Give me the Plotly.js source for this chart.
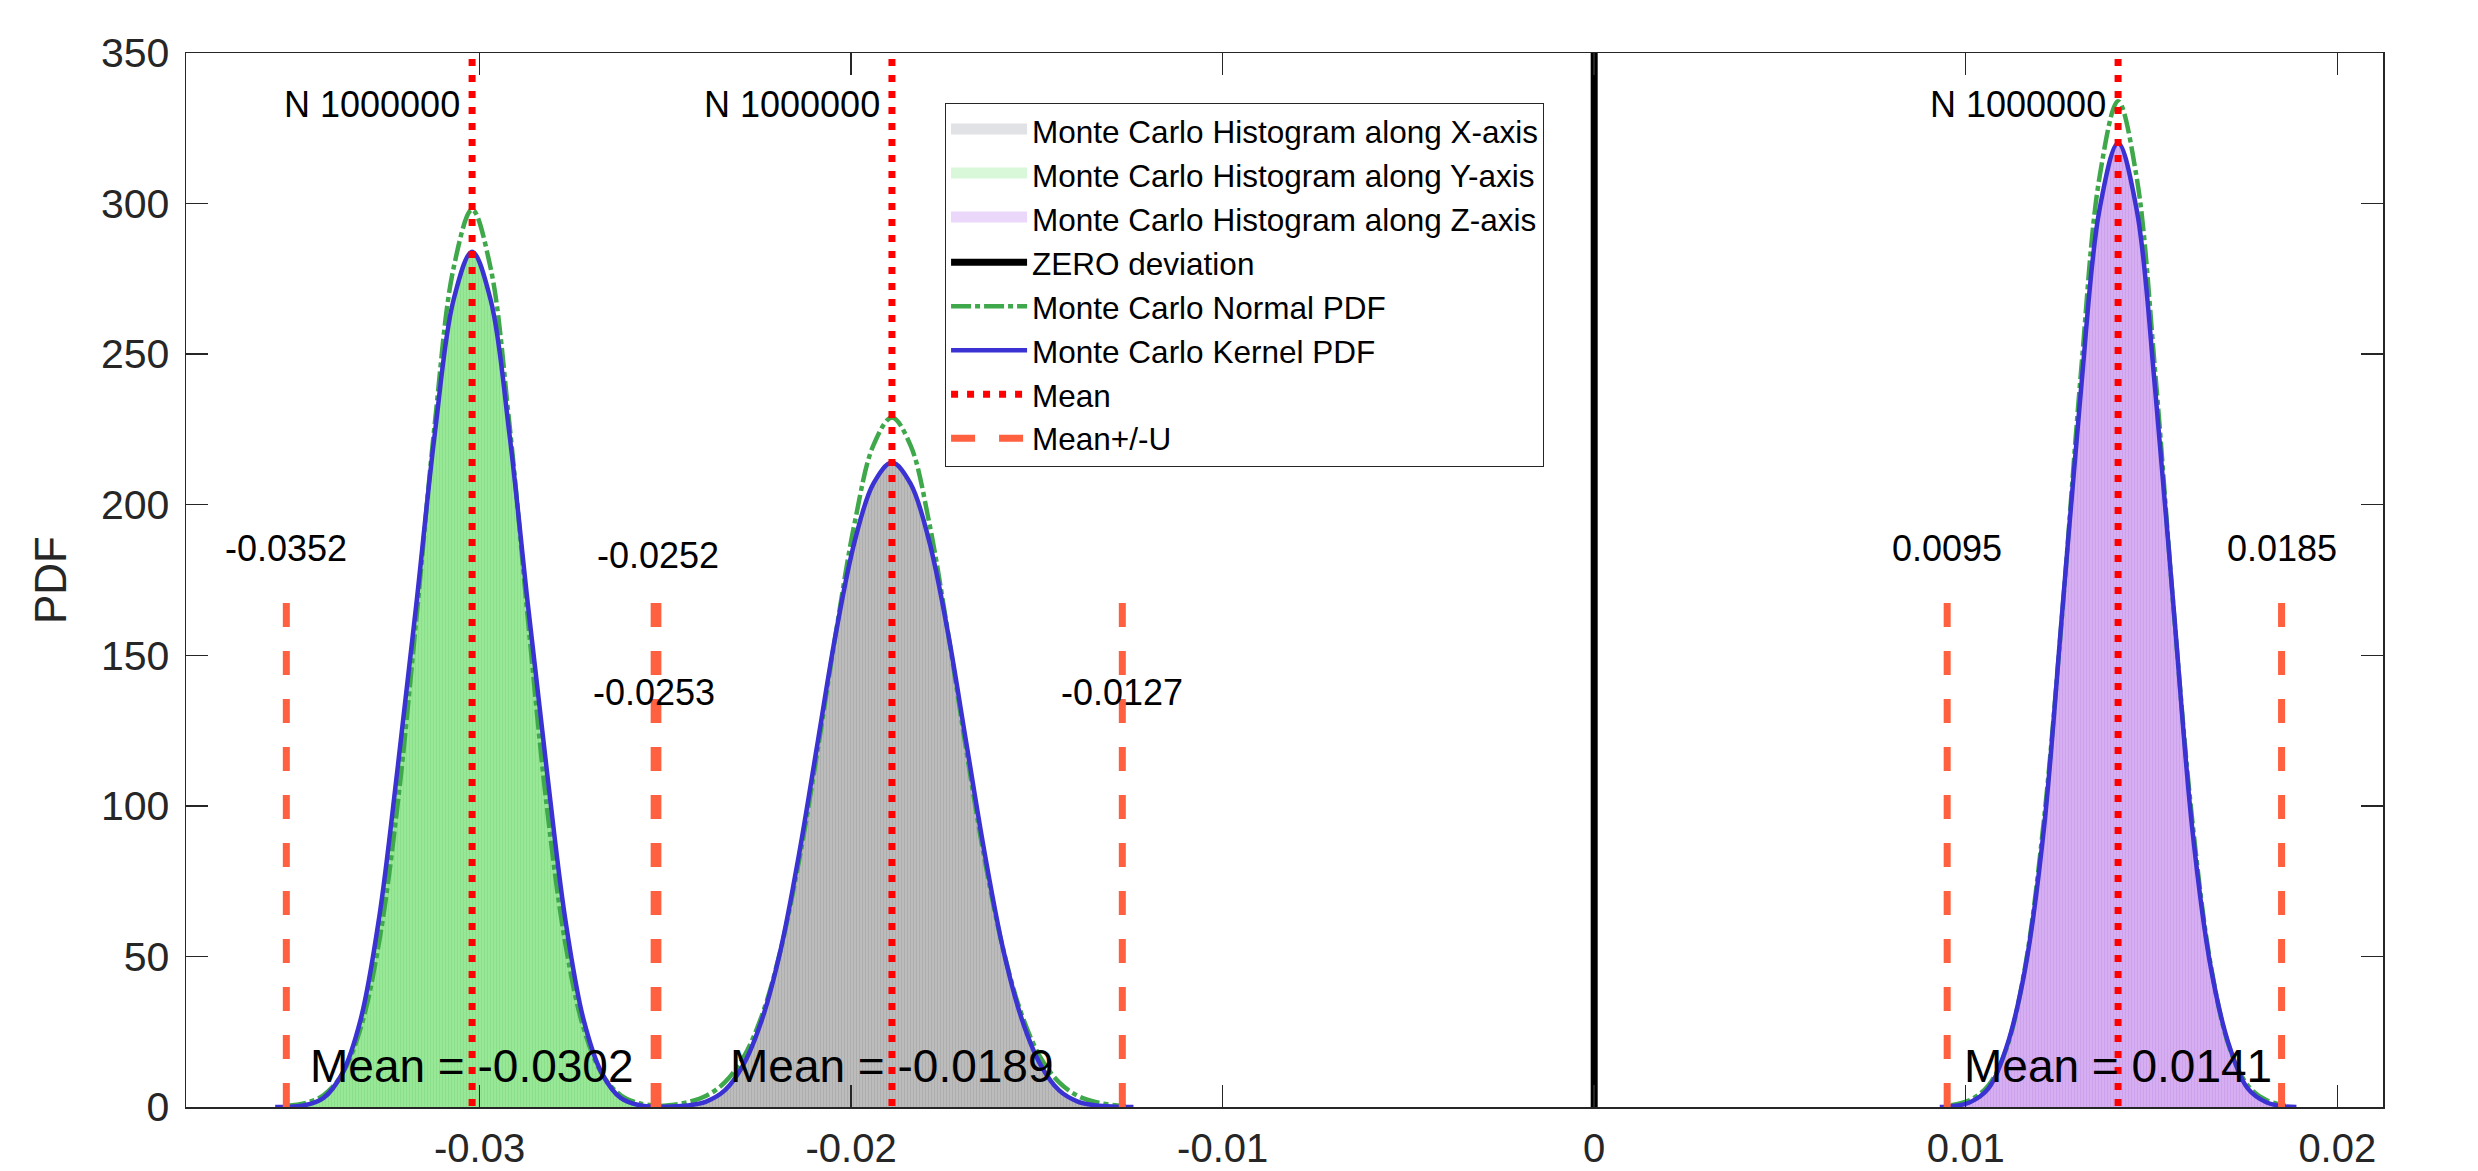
<!DOCTYPE html>
<html><head><meta charset="utf-8">
<script src="https://cdn.plot.ly/plotly-3.0.1.min.js"></script>
<style>html,body{margin:0;padding:0;background:#fff;} #chart{width:2478px;height:1171px;}</style>
</head><body><div id="chart"></div>
<script>
// ---------------- data ----------------
const axisNames = ['X-axis', 'Y-axis', 'Z-axis'];
const sampleCount = 1000000;
const meanValues = [-0.0189, -0.0302, 0.0141];
const lowerBounds = [-0.0253, -0.0352, 0.0095];
const upperBounds = [-0.0127, -0.0252, 0.0185];
const zeroDeviation = 0;

// X-axis (gray) kernel + normal PDF
const kernelX_x = [-0.0254, -0.0249, -0.0244, -0.0239, -0.0234, -0.0229, -0.0224, -0.0219, -0.0214, -0.0209, -0.0204, -0.0199, -0.0194, -0.0189, -0.0184, -0.0179, -0.0174, -0.0169, -0.0164, -0.0159, -0.0154, -0.0149, -0.0144, -0.0139, -0.0134, -0.0129, -0.0124];
const kernelX_y = [0, 0.1, 0.5, 1.8, 5.5, 14, 29, 52, 84, 121, 158, 188, 207, 214, 207, 188, 158, 121, 84, 52, 29, 14, 5.5, 1.8, 0.5, 0.1, 0];
const normalX_x = [-0.0252, -0.0249, -0.0244, -0.0239, -0.0234, -0.0229, -0.0224, -0.0219, -0.0214, -0.0209, -0.0204, -0.0199, -0.0194, -0.0189, -0.0184, -0.0179, -0.0174, -0.0169, -0.0164, -0.0159, -0.0154, -0.0149, -0.0144, -0.0139, -0.0134, -0.0129, -0.0126];
const normalX_y = [0.35, 0.6, 1.57, 3.7, 8.15, 16.4, 30.4, 52.0, 81.8, 118.5, 158.1, 194.2, 219.7, 229, 219.7, 194.2, 158.1, 118.5, 81.8, 52.0, 30.4, 16.4, 8.15, 3.7, 1.57, 0.6, 0.35];

// Y-axis (green)
const kernelY_x = [-0.0355, -0.0352, -0.0347, -0.0342, -0.0337, -0.0332, -0.0327, -0.0322, -0.0317, -0.0312, -0.0307, -0.0302, -0.0297, -0.0292, -0.0287, -0.0282, -0.0277, -0.0272, -0.0267, -0.0262, -0.0257, -0.0252, -0.0249];
const kernelY_y = [0, 0, 0.6, 3, 11, 29, 63, 113, 167, 224, 268, 284, 268, 224, 167, 113, 63, 29, 11, 3, 0.6, 0, 0];
const normalY_x = [-0.0352, -0.0347, -0.0342, -0.0337, -0.0332, -0.0327, -0.0322, -0.0317, -0.0312, -0.0307, -0.0302, -0.0297, -0.0292, -0.0287, -0.0282, -0.0277, -0.0272, -0.0267, -0.0262, -0.0257, -0.0252];
const normalY_y = [0.35, 1.25, 3.9, 10.9, 26.2, 55.0, 101.0, 162.2, 227.4, 278.5, 298, 278.5, 227.4, 162.2, 101.0, 55.0, 26.2, 10.9, 3.9, 1.25, 0.35];

// Z-axis (purple)
const kernelZ_x = [0.0093, 0.0096, 0.0101, 0.0106, 0.0111, 0.0116, 0.0121, 0.0126, 0.0131, 0.0136, 0.0141, 0.0146, 0.0151, 0.0156, 0.0161, 0.0166, 0.0171, 0.0176, 0.0181, 0.0186, 0.0189];
const kernelZ_y = [0, 0.2, 1.5, 6, 20, 46, 92, 165, 238, 298, 320, 298, 238, 165, 92, 46, 20, 6, 1.5, 0.2, 0];
const normalZ_x = [0.0096, 0.0101, 0.0106, 0.0111, 0.0116, 0.0121, 0.0126, 0.0131, 0.0136, 0.0141, 0.0146, 0.0151, 0.0156, 0.0161, 0.0166, 0.0171, 0.0176, 0.0181, 0.0186];
const normalZ_y = [0.57, 2.2, 7.0, 19.6, 46.7, 94.8, 164.4, 243.8, 308.7, 334, 308.7, 243.8, 164.4, 94.8, 46.7, 19.6, 7.0, 2.2, 0.57];

const xTickVals = [-0.03, -0.02, -0.01, 0, 0.01, 0.02];
const xTickText = ['-0.03', '-0.02', '-0.01', '0', '0.01', '0.02'];
const yTickVals = [0, 50, 100, 150, 200, 250, 300, 350];
const yTickText = ['0', '50', '100', '150', '200', '250', '300', '350'];

// ---------------- style ----------------
const kernelXs = [kernelX_x, kernelY_x, kernelZ_x];
const kernelYs = [kernelX_y, kernelY_y, kernelZ_y];
const normalXs = [normalX_x, normalY_x, normalZ_x];
const normalYs = [normalX_y, normalY_y, normalZ_y];

const histFill = ['#bcbcbc', '#98e898', '#d6aef2'];
const histStripe = ['#a9a9a9', '#86dc86', '#c99ce9'];
const legendFill = ['#e1e2e5', '#d9f7d9', '#ebd7f9'];
const FONT = 'Liberation Sans, Arial, sans-serif';
const meanTop = 348, boundTop = 167.4, yMax = 350;
const boundLabelY = [[137.5, 137.5], [185.5, 183], [185.5, 185.5]];

const traces = [];
// legend-only swatches for the histograms
for (let i = 0; i < 3; i++) {
  traces.push({
    x: [null], y: [null], type: 'scatter', mode: 'lines', fill: 'tozeroy',
    fillcolor: legendFill[i], line: {color: legendFill[i], width: 10},
    name: 'Monte Carlo Histogram along ' + axisNames[i], legendrank: 1 + i, hoverinfo: 'skip'
  });
}
// histogram fills
for (let i = 0; i < 3; i++) {
  traces.push({
    x: kernelXs[i], y: kernelYs[i], type: 'scatter', mode: 'lines',
    line: {width: 0, shape: 'spline', smoothing: 1, color: histFill[i]},
    fill: 'tozeroy', fillcolor: histFill[i],
    fillpattern: {shape: '|', size: 3, solidity: 0.25, fgcolor: histStripe[i], bgcolor: histFill[i]},
    showlegend: false, hoverinfo: 'skip'
  });
}
// normal PDFs
for (let i = 0; i < 3; i++) {
  traces.push({
    x: normalXs[i], y: normalYs[i], type: 'scatter', mode: 'lines',
    line: {color: '#3ea84a', width: 4.5, dash: '20px,4px,5px,4px', shape: 'spline', smoothing: 1},
    name: 'Monte Carlo Normal PDF', showlegend: i === 0, legendrank: 5
  });
}
// kernel PDFs
for (let i = 0; i < 3; i++) {
  traces.push({
    x: kernelXs[i], y: kernelYs[i], type: 'scatter', mode: 'lines',
    line: {color: '#3a32d2', width: 4.5, shape: 'spline', smoothing: 1},
    name: 'Monte Carlo Kernel PDF', showlegend: i === 0, legendrank: 6
  });
}
// means
for (let i = 0; i < 3; i++) {
  traces.push({
    x: [meanValues[i], meanValues[i]], y: [meanTop, 0], type: 'scatter', mode: 'lines',
    line: {color: '#ff0000', width: 7, dash: '7px,9px'},
    name: 'Mean', showlegend: i === 0, legendrank: 7
  });
}
// mean +/- U
for (let i = 0; i < 3; i++) {
  [lowerBounds[i], upperBounds[i]].forEach((b, j) => {
    traces.push({
      x: [b, b], y: [boundTop, 0], type: 'scatter', mode: 'lines',
      line: {color: '#ff6040', width: 7, dash: '24px,24px'},
      name: 'Mean+/-U', showlegend: i === 0 && j === 0, legendrank: 8
    });
  });
}
// zero deviation
traces.push({
  x: [zeroDeviation, zeroDeviation], y: [0, yMax], type: 'scatter', mode: 'lines',
  line: {color: '#000000', width: 7}, name: 'ZERO deviation', legendrank: 4
});

const annotations = [];
for (let i = 0; i < 3; i++) {
  annotations.push({x: meanValues[i], y: 333, xref: 'x', yref: 'y', text: 'N ' + sampleCount,
    showarrow: false, xanchor: 'right', yanchor: 'middle', xshift: -10, font: {size: 36, color: '#000'}});
  annotations.push({x: meanValues[i], y: 13.5, xref: 'x', yref: 'y', text: 'Mean = ' + meanValues[i].toFixed(4),
    showarrow: false, xanchor: 'center', yanchor: 'middle', font: {size: 46, color: '#000'}});
  annotations.push({x: lowerBounds[i], y: boundLabelY[i][0], xref: 'x', yref: 'y', text: lowerBounds[i].toFixed(4),
    showarrow: false, xanchor: 'center', yanchor: 'middle', font: {size: 36, color: '#000'}});
  annotations.push({x: upperBounds[i], y: boundLabelY[i][1], xref: 'x', yref: 'y', text: upperBounds[i].toFixed(4),
    showarrow: false, xanchor: 'center', yanchor: 'middle', font: {size: 36, color: '#000'}});
}

const axisCommon = {
  showgrid: false, zeroline: false, showline: true, linecolor: '#262626', linewidth: 1.5,
  mirror: 'ticks', ticks: 'inside', ticklen: 22, tickwidth: 1.5, tickcolor: '#262626',
  tickmode: 'array'
};

const layout = {
  width: 2478, height: 1171,
  margin: {l: 186, r: 95, t: 53, b: 64, pad: 0},
  paper_bgcolor: '#ffffff', plot_bgcolor: '#ffffff',
  font: {family: FONT, color: '#262626'},
  showlegend: true,
  xaxis: Object.assign({}, axisCommon, {range: [-0.0379, 0.02123], tickvals: xTickVals, ticktext: xTickText,
    ticklabelstandoff: 5, tickfont: {size: 40, color: '#262626', family: FONT}}),
  yaxis: Object.assign({}, axisCommon, {range: [0, 350], tickvals: yTickVals, ticktext: yTickText, ticklabelstandoff: 7,
    tickfont: {size: 41, color: '#262626', family: FONT},
    title: {text: 'PDF', font: {size: 44, color: '#262626', family: FONT}, standoff: 20}}),
  legend: {x: 0.3455, y: 0.953, xanchor: 'left', yanchor: 'top', bgcolor: '#ffffff',
    bordercolor: '#262626', borderwidth: 1, font: {size: 31.5, color: '#000', family: FONT},
    itemwidth: 76, tracegroupgap: 0},
  annotations: annotations
};

Plotly.newPlot('chart', traces, layout, {staticPlot: true});
</script></body></html>
